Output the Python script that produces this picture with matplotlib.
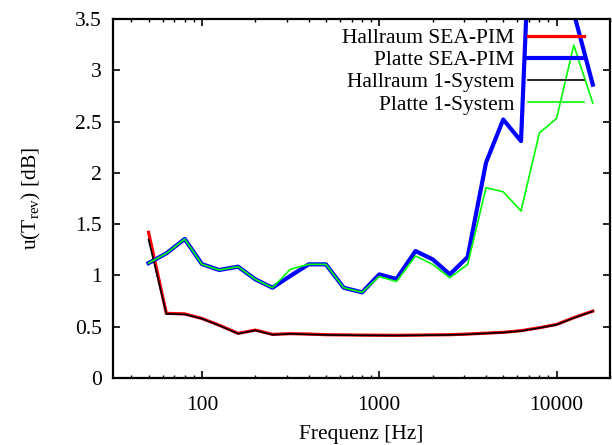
import matplotlib
matplotlib.use("Agg")
import matplotlib.pyplot as plt
from matplotlib.ticker import LogLocator, NullFormatter

plt.rcParams['font.family'] = ['Liberation Serif', 'DejaVu Serif']
plt.rcParams['mathtext.fontset'] = 'custom'
plt.rcParams['mathtext.rm'] = 'Liberation Serif'
plt.rcParams['mathtext.it'] = 'Liberation Serif:italic'

# third-octave band centre frequencies
freq = [50, 63, 80, 100, 125, 160, 200, 250, 315, 400, 500, 630, 800,
        1000, 1250, 1600, 2000, 2500, 3150, 4000, 5000, 6300, 8000,
        10000, 12500, 16000]

# measurement uncertainty of reverberation time [dB]
hall_sea = [1.42, 0.63, 0.625, 0.58, 0.515, 0.435, 0.467, 0.425, 0.432, 0.428,
            0.422, 0.42, 0.418, 0.417, 0.416, 0.418, 0.42, 0.422, 0.428, 0.437,
            0.445, 0.461, 0.49, 0.522, 0.588, 0.652]
platte_sea = [1.12, 1.215, 1.355, 1.11, 1.053, 1.085, 0.962, 0.88, 0.995, 1.108,
              1.108, 0.88, 0.835, 1.01, 0.965, 1.238, 1.157, 1.01, 1.18, 2.1,
              2.52, 2.31, 6.6, 5.0, 3.56, 2.86]
hall_1sys = [1.35, 0.625, 0.62, 0.578, 0.512, 0.432, 0.464, 0.422, 0.43, 0.425,
             0.42, 0.418, 0.416, 0.415, 0.414, 0.416, 0.418, 0.42, 0.426, 0.435,
             0.443, 0.459, 0.488, 0.52, 0.585, 0.65]
platte_1sys = [1.12, 1.215, 1.355, 1.108, 1.053, 1.085, 0.962, 0.88, 1.06, 1.108,
               1.108, 0.88, 0.835, 0.99, 0.94, 1.19, 1.108, 0.978, 1.108, 1.855,
               1.816, 1.628, 2.39, 2.53, 3.245, 2.68]

labels = ["Hallraum SEA-PIM", "Platte SEA-PIM", "Hallraum 1-System", "Platte 1-System"]

yticks = [0, 0.5, 1, 1.5, 2, 2.5, 3, 3.5]
ytick_labels = ["0", "0.5", "1", "1.5", "2", "2.5", "3", "3.5"]
xticks = [100, 1000, 10000]
xtick_labels = ["100", "1000", "10000"]

fs = 15.5

fig = plt.figure(figsize=(6.12, 4.45), dpi=100)
ax = fig.add_axes([0.1846, 0.1506, 0.8121, 0.8067])

ax.plot(freq, hall_sea, color='#ff0000', lw=2.3, label=labels[0])
ax.plot(freq, platte_sea, color='#0000ff', lw=3.0, label=labels[1])
ax.plot(freq, hall_1sys, color='black', lw=1.2, label=labels[2])
ax.plot(freq, platte_1sys, color='#00ff00', lw=1.2, label=labels[3])

ax.set_xscale('log')
ax.set_xlim(31.5, 20000)
ax.set_ylim(0, 3.5)

ax.set_xticks(xticks)
ax.set_xticklabels(xtick_labels)
ax.xaxis.set_minor_locator(LogLocator(base=10, subs=range(2, 10)))
ax.xaxis.set_minor_formatter(NullFormatter())
ax.set_yticks(yticks)
ax.set_yticklabels(ytick_labels)

ax.tick_params(which='both', direction='in', top=True, right=True, labelsize=fs)
ax.tick_params(which='major', length=5, width=1.2)
ax.tick_params(which='minor', length=2.5, width=1.0)
ax.tick_params(axis='x', which='major', pad=13)
ax.tick_params(axis='y', which='major', pad=8)
for sp in ax.spines.values():
    sp.set_linewidth(1.6)

ax.set_xlabel("Frequenz [Hz]", fontsize=fs, labelpad=7.5)
ax.set_ylabel(r"u(T$_{\mathrm{rev}}$) [dB]", fontsize=fs, labelpad=23)

ax.legend(loc='upper right', bbox_to_anchor=(0.948, 0.975), frameon=False,
          markerfirst=False, fontsize=fs, handlelength=2.6, handletextpad=0.65,
          labelspacing=0.1, borderaxespad=0.0, borderpad=0.0)

fig.savefig("out.png", dpi=100)
